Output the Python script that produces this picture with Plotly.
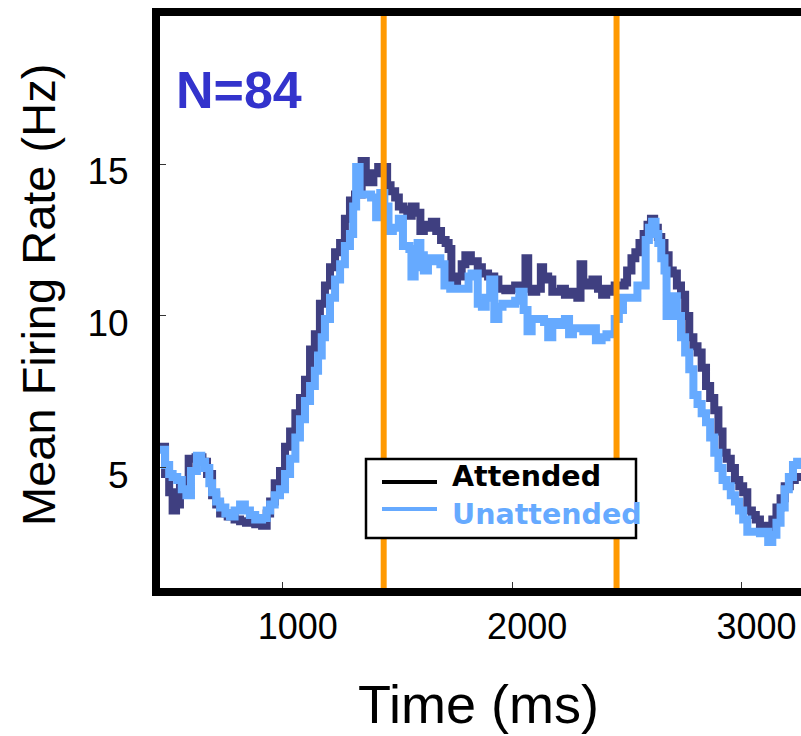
import plotly.graph_objects as go

# ---------------- data ----------------
attended_t = [465, 487, 505, 520, 535, 552, 574, 590, 620, 650, 670, 692, 710, 727, 760, 790,
              814, 840, 857, 880, 910, 930, 945, 965, 988, 1010, 1032, 1055, 1075, 1097, 1119,
              1140, 1162, 1184, 1206, 1228, 1250, 1271, 1293, 1315, 1344, 1362, 1375, 1395, 1416,
              1443, 1455, 1470, 1490, 1506, 1525, 1543, 1562, 1579, 1600, 1615, 1635, 1650, 1669,
              1690, 1710, 1723, 1735, 1760, 1780, 1796, 1820, 1850, 1868, 1895, 1922, 1940, 1970,
              1995, 2013, 2035, 2058, 2070, 2085, 2105, 2125, 2135, 2157, 2175, 2195, 2212, 2230,
              2260, 2284, 2298, 2310, 2330, 2350, 2374, 2392, 2410, 2429, 2447, 2470, 2490, 2501,
              2520, 2537, 2555, 2573, 2590, 2605, 2619, 2635, 2650, 2664, 2682, 2700, 2718, 2736,
              2754, 2772, 2790, 2808, 2826, 2845, 2863, 2881, 2899, 2917, 2935, 2953, 2971, 2990,
              3007, 3025, 3045, 3062, 3080, 3098, 3116, 3134, 3152, 3170, 3188, 3210, 3232, 3259]
attended_hz = [5.7, 4.8, 4.2, 3.6, 3.8, 4.5, 4.6, 5.3, 5.35, 5.2, 4.8, 4.1, 3.8, 3.5, 3.4, 3.3,
               3.25, 3.2, 3.3, 3.15, 3.1, 3.5, 3.9, 4.5, 4.9, 5.7, 6.2, 6.8, 7.3, 7.9, 8.9,
               9.4, 10.4, 11.0, 11.6, 12.1, 12.4, 13.2, 13.8, 14.0, 15.1, 14.7, 14.4, 14.7, 14.9,
               14.9, 14.3, 14.1, 13.9, 13.6, 13.5, 13.3, 13.6, 13.4, 12.8, 13.0, 12.9, 13.1, 12.8,
               12.5, 12.4, 12.2, 11.1, 11.3, 11.7, 12.0, 11.8, 11.6, 11.4, 11.3, 11.2, 10.9, 10.85,
               10.9, 11.0, 11.0, 11.9, 10.9, 10.8, 10.9, 11.6, 11.3, 11.2, 10.8, 10.8, 10.9, 10.7,
               10.8, 10.6, 11.7, 11.1, 11.0, 11.2, 10.9, 10.7, 10.9, 10.8, 11.0, 11.0, 11.1, 11.5,
               11.9, 12.1, 12.4, 12.7, 13.0, 13.2, 12.9, 12.6, 12.4, 12.0, 11.5, 11.4, 11.0, 10.7,
               10.0, 9.3, 9.0, 8.8, 8.3, 7.7, 7.3, 6.9, 6.2, 5.5, 5.3, 5.0, 4.6, 4.4,
               4.2, 3.6, 3.45, 3.3, 3.05, 3.1, 2.9, 3.3, 3.7, 4.0, 4.4, 4.6, 4.7, 4.8]

unattended_t = [465, 487, 505, 520, 540, 560, 580, 600, 626, 645, 661, 680, 692, 710, 727, 750,
                770, 790, 814, 835, 857, 880, 910, 930, 945, 965, 988, 1010, 1032, 1055, 1075,
                1097, 1119, 1140, 1154, 1170, 1184, 1206, 1228, 1250, 1271, 1293, 1307, 1320, 1335,
                1362, 1385, 1407, 1425, 1443, 1461, 1480, 1506, 1524, 1552, 1561, 1575, 1588, 1600,
                1615, 1633, 1650, 1669, 1687, 1705, 1730, 1760, 1796, 1810, 1823, 1850, 1868, 1885,
                1904, 1922, 1940, 1958, 1985, 2013, 2031, 2050, 2067, 2085, 2103, 2139, 2157, 2175,
                2200, 2230, 2248, 2265, 2284, 2310, 2338, 2365, 2390, 2411, 2429, 2447, 2465, 2483,
                2519, 2546, 2564, 2582, 2596, 2610, 2625, 2637, 2650, 2664, 2673, 2688, 2700, 2718,
                2736, 2754, 2772, 2790, 2808, 2826, 2845, 2863, 2881, 2899, 2917, 2935, 2953, 2971,
                2989, 3007, 3025, 3045, 3061, 3080, 3098, 3116, 3134, 3152, 3170, 3188, 3206, 3224,
                3242, 3259]
unattended_hz = [5.6, 5.1, 4.8, 4.7, 4.6, 4.3, 4.1, 4.9, 5.4, 5.2, 5.0, 4.5, 4.2, 3.9, 3.7, 3.5,
                 3.4, 3.6, 3.8, 3.6, 3.45, 3.3, 3.35, 3.6, 3.8, 4.1, 4.3, 4.8, 5.3, 6.0, 6.6,
                 7.2, 7.7, 8.2, 8.7, 9.3, 9.9, 10.6, 11.2, 11.7, 12.3, 12.7, 13.6, 14.9, 14.0,
                 14.0, 13.9, 13.25, 14.05, 13.6, 12.8, 12.9, 13.2, 12.3, 12.2, 11.3, 11.6, 12.4, 12.0,
                 11.5, 11.9, 11.8, 11.9, 11.7, 11.0, 10.9, 10.9, 10.9, 11.3, 11.4, 10.4, 10.3, 10.6,
                 11.2, 9.9, 10.3, 10.4, 10.4, 10.5, 10.8, 10.2, 9.5, 9.9, 9.9, 9.8, 9.3, 9.8,
                 9.7, 9.9, 9.4, 9.6, 9.6, 9.5, 9.6, 9.2, 9.3, 9.4, 9.4, 9.9, 10.2, 10.6,
                 10.6, 11.0, 11.0, 12.5, 12.9, 13.1, 12.7, 12.4, 11.9, 11.5, 10.0, 10.5, 10.65, 10.0,
                 9.3, 8.8, 8.25, 7.4, 7.1, 6.8, 6.5, 6.0, 5.5, 5.0, 4.6, 4.4, 4.1, 3.9,
                 3.6, 3.3, 2.9, 2.9, 2.9, 2.85, 2.9, 2.56, 2.8, 3.2, 3.7, 4.3, 4.7, 5.1,
                 5.2, 5.2]

event_times = [1440, 2455]
x_ticks = [1000, 2000, 3000]
y_ticks = [5, 10, 15]
x_range = [465, 3259]
y_range = [1.05, 19.87]

series_names = ["Attended", "Unattended"]
series_colors = ["#3F3F80", "#66AAFF"]
legend_line_colors = ["#000000", "#66AAFF"]
count_label = "N=84"
x_title = "Time (ms)"
y_title = "Mean Firing Rate (Hz)"

# ---------------- layout geometry (pixels) ----------------
W, H = 801, 736
L, R, T, B = 160, 0, 16, 148
PW, PH = W - L - R, H - T - B


def px(xp):
    return (xp - L) / PW


def py(yp):
    return (H - B - yp) / PH


fig = go.Figure()
fig.add_trace(go.Scatter(x=attended_t, y=attended_hz, mode="lines", line_shape="hv",
                         line=dict(color=series_colors[0], width=8), showlegend=False))
fig.add_trace(go.Scatter(x=unattended_t, y=unattended_hz, mode="lines", line_shape="hv",
                         line=dict(color=series_colors[1], width=8), showlegend=False))

shapes = []
for et in event_times:
    shapes.append(dict(type="line", xref="x", yref="paper", x0=et, x1=et, y0=0, y1=1,
                       line=dict(color="#FF9900", width=6), layer="above"))
# legend box
shapes.append(dict(type="rect", xref="paper", yref="paper", x0=px(366), x1=px(636),
                   y0=py(538), y1=py(459), line=dict(color="black", width=2.5),
                   fillcolor="white", layer="above"))
for i, yy in enumerate([482, 509]):
    shapes.append(dict(type="line", xref="paper", yref="paper", x0=px(382), x1=px(437),
                       y0=py(yy), y1=py(yy), line=dict(color=legend_line_colors[i], width=4),
                       layer="above"))

annotations = [
    dict(text=f"<b>{count_label}</b>", xref="paper", yref="paper", x=px(174), y=py(90),
         xanchor="left", yanchor="middle", showarrow=False,
         font=dict(family="Liberation Sans, Arial", size=52, color="#3333CC")),
    dict(text=f"<b>{series_names[0]}</b>", xref="paper", yref="paper", x=px(450), y=py(476),
         xanchor="left", yanchor="middle", showarrow=False,
         font=dict(family="DejaVu Sans", size=28.5, color="#000000")),
    dict(text=f"<b>{series_names[1]}</b>", xref="paper", yref="paper", x=px(450), y=py(514),
         xanchor="left", yanchor="middle", showarrow=False,
         font=dict(family="DejaVu Sans", size=28.5, color="#66AAFF")),
    dict(text=y_title, xref="paper", yref="paper", x=px(38), y=py(295), textangle=-90,
         xanchor="center", yanchor="middle", showarrow=False,
         font=dict(family="Liberation Sans, Arial", size=47, color="black")),
    dict(text=x_title, xref="paper", yref="paper", x=px(478), y=py(704),
         xanchor="center", yanchor="middle", showarrow=False,
         font=dict(family="Liberation Sans, Arial", size=54, color="black")),
]

fig.update_layout(
    width=W, height=H, margin=dict(l=L, r=R, t=T, b=B, pad=0),
    paper_bgcolor="white", plot_bgcolor="white",
    shapes=shapes, annotations=annotations, showlegend=False,
    font=dict(family="Liberation Sans, Arial", color="black"),
)
fig.update_xaxes(range=x_range, tickvals=x_ticks, ticks="inside", ticklen=6, tickwidth=1,
                 tickcolor="#333", showline=True, linewidth=8, linecolor="black", mirror=True,
                 showgrid=False, zeroline=False, tickfont=dict(size=36), ticklabelshift=15)
fig.update_yaxes(range=y_range, tickvals=y_ticks, ticks="inside", ticklen=6, tickwidth=1,
                 tickcolor="#333", showline=True, linewidth=8, linecolor="black", mirror=False,
                 showgrid=False, zeroline=False, tickfont=dict(size=37), ticklabelshift=7,
                 ticklabelstandoff=16)

fig.write_html("out.html", config={"displayModeBar": False},
               post_script="document.body.style.margin='0';document.body.style.overflow='hidden';")
